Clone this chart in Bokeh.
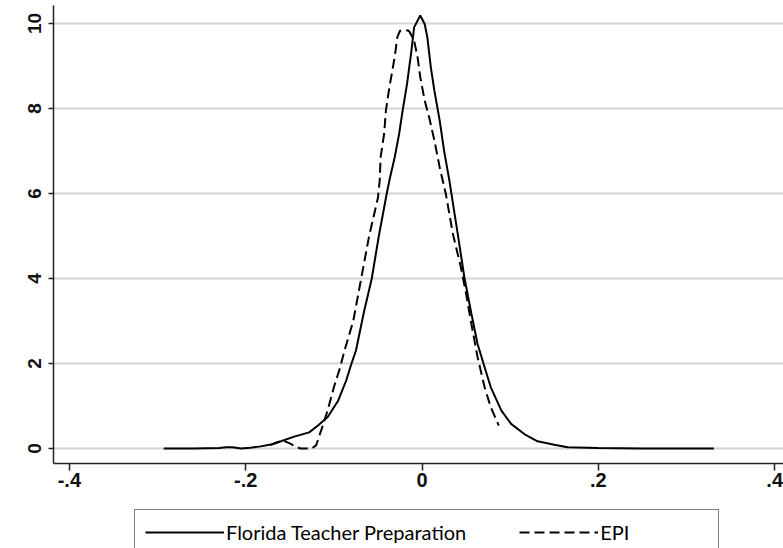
from bokeh.plotting import figure
from bokeh.layouts import column
from bokeh.models import Range1d, FixedTicker, Legend, LegendItem
from bokeh.embed import file_html
from bokeh.resources import INLINE

# Florida Teacher Preparation (solid)
fl_x = [-0.293, -0.26, -0.23, -0.222, -0.215, -0.205, -0.195, -0.183, -0.170, -0.160,
        -0.145, -0.128, -0.118, -0.107, -0.095, -0.086, -0.080, -0.075, -0.066, -0.057,
        -0.049, -0.040, -0.037, -0.031, -0.026, -0.022, -0.017, -0.012, -0.009, -0.002,
        0.003, 0.006, 0.010, 0.014, 0.020, 0.025, 0.031, 0.034, 0.0405, 0.048,
        0.056, 0.063, 0.071, 0.078, 0.090, 0.101, 0.116, 0.131, 0.150, 0.165,
        0.20, 0.25, 0.331]
fl_y = [0.0, 0.0, 0.01, 0.03, 0.03, 0.0, 0.02, 0.05, 0.10, 0.17,
        0.28, 0.38, 0.54, 0.74, 1.13, 1.6, 2.0, 2.3, 3.2, 4.0,
        5.0, 6.0, 6.31, 6.85, 7.40, 7.95, 8.58, 9.36, 9.91, 10.19,
        9.99, 9.68, 8.97, 8.42, 7.72, 7.01, 6.31, 5.91, 5.05, 4.03,
        3.17, 2.46, 1.91, 1.44, 0.89, 0.58, 0.34, 0.17, 0.09, 0.03,
        0.01, 0.0, 0.0]

# EPI (dashed)
epi_x = [-0.172, -0.165, -0.158, -0.150, -0.143, -0.138, -0.125, -0.120, -0.114, -0.107,
         -0.100, -0.093, -0.088, -0.078, -0.069, -0.060, -0.050, -0.048, -0.047, -0.043,
         -0.041, -0.037, -0.033, -0.030, -0.028, -0.025, -0.016, -0.014, -0.009, -0.005,
         -0.002, 0.003, 0.008, 0.014, 0.020, 0.027, 0.035, 0.044, 0.050, 0.056,
         0.063, 0.071, 0.078, 0.087]
epi_y = [0.08, 0.14, 0.19, 0.12, 0.04, 0.0, 0.0, 0.08, 0.45, 0.9,
         1.44, 1.9, 2.3, 3.0, 4.0, 5.0, 5.9, 6.3, 6.85, 7.4,
         7.95, 8.5, 8.97, 9.36, 9.68, 9.83, 9.84, 9.8, 9.6, 9.2,
         8.74, 8.19, 7.8, 7.25, 6.62, 5.99, 5.05, 4.27, 3.64, 2.93,
         2.15, 1.44, 0.97, 0.54]

x_ticks = [-0.4, -0.2, 0.0, 0.2, 0.4]
x_tick_labels = ["-.4", "-.2", "0", ".2", ".4"]
y_ticks = [0, 2, 4, 6, 8, 10]
y_tick_labels = ["0", "2", "4", "6", "8", "10"]
series_names = ["Florida Teacher Preparation", "EPI"]

main = figure(frame_width=730, frame_height=458,
              min_border_left=53, min_border_right=0, min_border_top=5, min_border_bottom=46,
              x_range=Range1d(-0.418, 0.410), y_range=Range1d(-0.353, 10.424),
              output_backend="svg", toolbar_location=None)
main.outline_line_color = None
main.background_fill_color = "white"
main.border_fill_color = "white"

main.xgrid.visible = False
main.ygrid.ticker = FixedTicker(ticks=y_ticks)
main.ygrid.grid_line_color = "#d4d4d4"
main.ygrid.grid_line_width = 2

for ax in (main.xaxis[0], main.yaxis[0]):
    ax.axis_line_color = "#222222"
    ax.axis_line_width = 1.5
    ax.major_tick_line_color = "#222222"
    ax.major_tick_line_width = 1.5
    ax.minor_tick_line_color = None
    ax.major_tick_in = 0
    ax.major_label_text_font = "Liberation Sans"
    ax.major_label_text_font_style = "bold"
    ax.major_label_text_color = "#111111"

main.xaxis.ticker = FixedTicker(ticks=x_ticks)
main.xaxis.major_label_overrides = {t: l for t, l in zip(x_ticks, x_tick_labels)}
main.xaxis.major_tick_out = 7
main.xaxis.major_label_standoff = 2
main.xaxis.major_label_text_font_size = "20px"

main.yaxis.ticker = FixedTicker(ticks=y_ticks)
main.yaxis.major_label_overrides = {t: l for t, l in zip(y_ticks, y_tick_labels)}
main.yaxis.major_tick_out = 5
main.yaxis.major_label_orientation = "vertical"
main.yaxis.major_label_standoff = 7
main.yaxis.major_label_text_font_size = "19px"

main.line(fl_x, fl_y, line_color="black", line_width=2)
main.line(epi_x, epi_y, line_color="black", line_width=2, line_dash="10 5")

# legend strip below the chart (its series lines fall outside its view; only the key shows)
leg = figure(width=783, height=39, min_border=0, min_border_left=53,
             x_range=Range1d(-0.418, 0.410), y_range=Range1d(20, 21),
             x_axis_location=None, y_axis_location=None,
             output_backend="svg", toolbar_location=None)
leg.outline_line_color = None
leg.grid.visible = False
leg.background_fill_color = "white"
leg.border_fill_color = "white"
k1 = leg.line(fl_x, fl_y, line_color="black", line_width=2)
k2 = leg.line(epi_x, epi_y, line_color="black", line_width=2, line_dash="10 5")

legend = Legend(items=[LegendItem(label=series_names[0], renderers=[k1]),
                       LegendItem(label=series_names[1], renderers=[k2])],
                orientation="horizontal", location=(81, -7))
legend.label_text_font = "Lato"
legend.label_text_font_size = "20px"
legend.label_text_color = "black"
legend.glyph_width = 79
legend.glyph_height = 20
legend.label_standoff = 2
legend.spacing = 53
legend.padding = 10
legend.margin = 0
legend.label_width = 108
legend.label_height = 24
legend.border_line_color = "black"
legend.border_line_width = 1.5
legend.background_fill_color = "white"
legend.background_fill_alpha = 1
leg.add_layout(legend, "center")

p = column(main, leg, spacing=0)

open("out.html", "w").write(file_html(p, INLINE))
